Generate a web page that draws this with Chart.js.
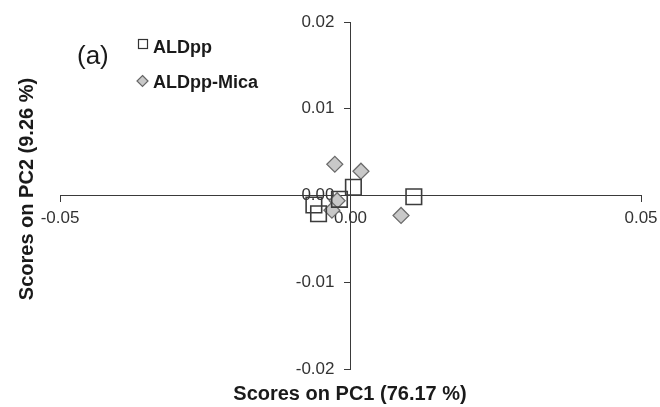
<!DOCTYPE html>
<html>
<head>
<meta charset="utf-8">
<script src="https://cdn.jsdelivr.net/npm/chart.js@4/dist/chart.umd.min.js"></script>
<style>
  html, body { margin: 0; padding: 0; background: #ffffff; }
  #wrap { width: 660px; height: 407px; }
</style>
</head>
<body>
<div id="wrap"><canvas id="pca" width="660" height="407"></canvas></div>
<script>
// PCA score plot: PC1 vs PC2 for the two sample groups
const seriesNames = ['ALDpp', 'ALDpp-Mica'];
const aldppPC1 = [0.0005, 0.0109, -0.0019, -0.0063, -0.0055];
const aldppPC2 = [0.00095, -0.00014, -0.00044, -0.0011, -0.0021];
const micaPC1 = [-0.0027, 0.0018, -0.0023, -0.0032, 0.0087];
const micaPC2 = [0.0036, 0.0028, -0.0006, -0.0017, -0.0023];
const xTicks = [-0.05, 0, 0.05];
const yTicks = [-0.02, -0.01, 0, 0.01, 0.02];
const xTitle = 'Scores on PC1 (76.17 %)';
const yTitle = 'Scores on PC2 (9.26 %)';
const panelTag = '(a)';

const FONT = '"Liberation Sans", Arial, Helvetica, sans-serif';
const AXIS_COLOR = '#3a3a3a';
const Y_LABEL_GAP = 16; // space between the crossing y axis and its labels

function toPoints(xs, ys) {
  return xs.map((x, i) => ({ x: x, y: ys[i] }));
}

// The y axis sits at x = 0; push its labels to the left of the axis line
const yLabelShift = {
  id: 'yLabelShift',
  beforeDraw(chart) {
    const scale = chart.scales.y;
    scale.getLabelItems().forEach((item) => {
      if (!item._shifted) {
        item.options.translation[0] -= Y_LABEL_GAP;
        item._shifted = true;
      }
    });
  }
};

// Axis titles, panel tag and the inline key
const annotations = {
  id: 'annotations',
  afterDraw(chart) {
    const ctx = chart.ctx;
    ctx.save();
    ctx.fillStyle = '#1a1a1a';

    ctx.font = 'bold 20px ' + FONT;
    ctx.textAlign = 'center';
    ctx.textBaseline = 'alphabetic';
    ctx.fillText(xTitle, 350, 400);

    ctx.save();
    ctx.translate(33, 189);
    ctx.rotate(-Math.PI / 2);
    ctx.fillText(yTitle, 0, 0);
    ctx.restore();

    ctx.font = '26px ' + FONT;
    ctx.textAlign = 'left';
    ctx.fillText(panelTag, 77, 64);

    // key
    const ds = chart.data.datasets;
    ctx.font = 'bold 18px ' + FONT;
    ctx.fillText(ds[0].label, 153, 53);
    ctx.fillText(ds[1].label, 153, 88);

    ctx.lineWidth = 1.2;
    ctx.strokeStyle = '#333333';
    ctx.fillStyle = '#ffffff';
    ctx.fillRect(138.5, 39.5, 9, 9);
    ctx.strokeRect(138.5, 39.5, 9, 9);

    ctx.beginPath();
    ctx.moveTo(142.5, 75.5);
    ctx.lineTo(148, 81);
    ctx.lineTo(142.5, 86.5);
    ctx.lineTo(137, 81);
    ctx.closePath();
    ctx.fillStyle = '#c8c8c8';
    ctx.fill();
    ctx.strokeStyle = '#666666';
    ctx.stroke();
    ctx.restore();
  }
};

const axisCommon = {
  type: 'linear',
  border: { display: true, color: AXIS_COLOR, width: 1 },
  grid: { drawOnChartArea: false, drawTicks: true, tickLength: 6, color: AXIS_COLOR, lineWidth: 1 },
  ticks: {
    color: '#333333',
    font: { family: FONT, size: 17 },
    callback: (v) => Number(v).toFixed(2)
  }
};

new Chart(document.getElementById('pca'), {
  type: 'scatter',
  data: {
    datasets: [
      {
        label: seriesNames[0],
        data: toPoints(aldppPC1, aldppPC2),
        pointStyle: 'rect',
        pointRadius: 11,
        pointHoverRadius: 11,
        backgroundColor: 'rgba(255,255,255,0)',
        borderColor: '#3c3c3c',
        borderWidth: 1.6
      },
      {
        label: seriesNames[1],
        data: toPoints(micaPC1, micaPC2),
        pointStyle: 'rectRot',
        pointRadius: 8,
        pointHoverRadius: 8,
        backgroundColor: '#c8c8c8',
        borderColor: '#6a6a6a',
        borderWidth: 1.2
      }
    ]
  },
  options: {
    responsive: false,
    animation: false,
    events: [],
    layout: { padding: { left: 60, right: 19, top: 22, bottom: 38 } },
    plugins: { legend: { display: false }, tooltip: { enabled: false }, title: { display: false } },
    scales: {
      x: Object.assign({}, axisCommon, {
        min: xTicks[0],
        max: xTicks[xTicks.length - 1],
        position: { y: 0 },
        afterBuildTicks: (s) => { s.ticks = xTicks.map(v => ({ value: v })); },
        afterFit: (s) => { s.height = 0; s.paddingLeft = 0; s.paddingRight = 0; },
        ticks: Object.assign({}, axisCommon.ticks, { padding: 7, maxRotation: 0 })
      }),
      y: Object.assign({}, axisCommon, {
        min: yTicks[0],
        max: yTicks[yTicks.length - 1],
        position: { x: 0 },
        afterBuildTicks: (s) => { s.ticks = yTicks.map(v => ({ value: v })); },
        afterFit: (s) => { s.width = 0; s.paddingTop = 0; s.paddingBottom = 0; },
        ticks: Object.assign({}, axisCommon.ticks, { padding: 10 })
      })
    }
  },
  plugins: [yLabelShift, annotations]
});
</script>
</body>
</html>
